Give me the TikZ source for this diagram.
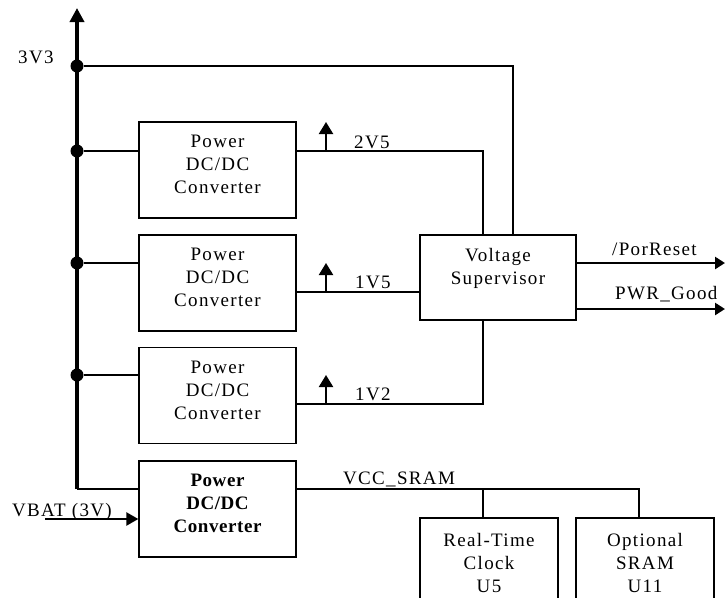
\documentclass[tikz,border=0pt]{standalone}
\usepackage{fontspec}
\setmainfont{Liberation Serif}[LetterSpace=7,BoldFeatures={LetterSpace=3}]
\usetikzlibrary{arrows.meta}
\tikzset{
  box/.style={draw, line width=1.3pt, minimum width=157pt, minimum height=96pt, inner sep=0pt},
  txt/.style={font=\fontsize{19}{23}\selectfont, align=center, inner sep=0pt},
  lbl/.style={font=\fontsize{19}{23}\selectfont, inner sep=0pt, anchor=base west},
  bus/.style={line width=3.5pt},
  feed/.style={line width=2.3pt},
  wire/.style={line width=1.4pt},
  outw/.style={line width=2.5pt, -{Triangle[length=10pt,width=12pt]}},
  uparr/.style={line width=2.2pt, -{Triangle[length=12pt,width=14pt]}},
  dot/.style={circle, fill, inner sep=0pt, minimum size=13pt},
}
\begin{document}
\begin{tikzpicture}[x=1pt,y=-1pt]
\useasboundingbox (0,0) rectangle (725,597);
\clip (0,0) rectangle (725,597);

% boxes
\node[box] (c1) at (217.5,170) {};
\node[box] (c2) at (217.5,283) {};
\node[box] (c3) at (217.5,395.5) {};
\node[box] (c4) at (217.5,509) {};
\node[box, minimum width=156pt, minimum height=85pt] (sup) at (498,277.5) {};
\node[box, minimum width=138pt, minimum height=110pt] (rtc) at (489,573) {};
\node[box, minimum width=138pt, minimum height=110pt] (sram) at (645,573) {};

\node[txt] (c1t) at ([yshift=5.3pt]c1.center) {Power\\DC/DC\\Converter};
\node[txt] (c2t) at ([yshift=5.3pt]c2.center) {Power\\DC/DC\\Converter};
\node[txt] (c3t) at ([yshift=5.3pt]c3.center) {Power\\DC/DC\\Converter};
\node[txt, font=\fontsize{19}{23}\selectfont\bfseries] (c4t) at ([yshift=5.3pt]c4.center) {Power\\DC/DC\\Converter};
\node[txt] (supt) at ([yshift=9.2pt]sup.center) {Voltage\\Supervisor};
\node[txt] (rtct) at (489,562.7) {Real-Time\\Clock\\U5};
\node[txt] (sramt) at (645,562.7) {Optional\\SRAM\\U11};

% bus coordinates
\coordinate (btop) at (77,8);
\coordinate (bbot) at (77,489);
\node[dot] (d0) at (77,66) {};
\node[dot] (d1) at (77,151) {};
\node[dot] (d2) at (77,263) {};
\node[dot] (d3) at (77,375) {};

\draw[bus, -{Triangle[length=14pt,width=14pt]}] (bbot) -- (btop);
\draw[feed] (bbot) -- (bbot -| c4.west);
\draw[feed] (d1) -- (d1 -| c1.west);
\draw[feed] (d2) -- (d2 -| c2.west);
\draw[feed] (d3) -- (d3 -| c3.west);

% 3V3 to supervisor
\coordinate (s3) at (513,66);
\draw[feed] (d0) -- (s3) -- (s3 |- sup.north);

% converter outputs
\coordinate (o1) at (296,151);
\coordinate (o2) at (296,292);
\coordinate (o3) at (296,404);
\coordinate (a1) at (326,151);
\coordinate (a2) at (326,292);
\coordinate (a3) at (326,404);
\coordinate (t1) at (326,122);
\coordinate (t2) at (326,263);
\coordinate (t3) at (326,375);
\coordinate (k1) at (483,151);
\coordinate (k3) at (483,404);
\draw[wire] (o1) -- (k1) -- (k1 |- sup.north);
\draw[wire] (o2) -- (o2 -| sup.west);
\draw[wire] (o3) -- (k3) -- (k3 |- sup.south);
\draw[uparr] (a1) -- (t1);
\draw[uparr] (a2) -- (t2);
\draw[uparr] (a3) -- (t3);
\node[lbl] (l1) at (354,148) {2V5};
\node[lbl] (l2) at (355,288) {1V5};
\node[lbl] (l3) at (355,400) {1V2};
\node[lbl] (l0) at (18,63) {3V3};

% supervisor outputs
\coordinate (r1) at (725,263);
\coordinate (r2) at (725,309);
\draw[outw] (sup.east |- r1) -- (r1);
\draw[outw] (sup.east |- r2) -- (r2);
\node[lbl] (lr1) at (612,255) {/PorReset};
\node[lbl] (lr2) at (615,299) {PWR\_Good};

% VCC_SRAM
\coordinate (v0) at (296,489);
\coordinate (v1) at (483,489);
\coordinate (v2) at (639,489);
\draw[wire] (v0) -- (v2) -- (v2 |- sram.north);
\draw[wire] (v1) -- (v1 |- rtc.north);
\node[lbl] (lv) at (343,484.5) {VCC\_SRAM};

% VBAT
\coordinate (vb) at (45,519);
\draw[line width=2.4pt, -{Triangle[length=12pt,width=13pt]}] (vb) -- (vb -| c4.west);
\node[lbl] (lvb) at (12,516) {VBAT (3V)};
\end{tikzpicture}
\end{document}
